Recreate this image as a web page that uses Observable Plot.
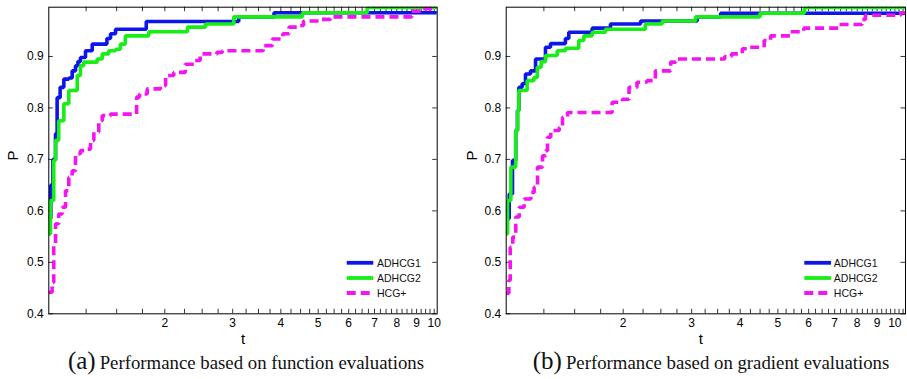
<!DOCTYPE html>
<html><head><meta charset="utf-8">
<script src="https://cdn.jsdelivr.net/npm/d3@7"></script>
<script src="https://cdn.jsdelivr.net/npm/@observablehq/plot@0.6"></script>
<style>
body{margin:0;background:#fff;}
#wrap{position:relative;width:907px;height:379px;overflow:hidden;background:#fff;}
.panel{position:absolute;top:0;}
.cap{position:absolute;top:346px;width:440px;height:30px;line-height:30px;text-align:center;font-family:"Liberation Serif","Times New Roman",serif;white-space:nowrap;color:#111;}
.cap .l{font-size:25px;}
.cap .t{font-size:18.8px;}
</style></head><body><div id="wrap"></div>
<script>
// ---- categories / labels ----
const series = ["ADHCG1", "ADHCG2", "HCG+"];
const colors = ["#0c16e8", "#16ee16", "#f414f0"];
const dashes = [null, null, "9,5"];
const xMajor = [2, 3, 4, 5, 6, 7, 8, 9, 10];
const xMinor = [1.25, 1.5, 1.75, 2.25, 2.5, 2.75, 3.25, 3.5, 3.75, 4.25, 4.5, 4.75, 5.25, 5.5, 5.75,
  6.25, 6.5, 6.75, 7.25, 7.5, 7.75, 8.25, 8.5, 8.75, 9.25, 9.5, 9.75, 10.25, 10.5];
const yTicks = [0.4, 0.5, 0.6, 0.7, 0.8, 0.9];
const capLetters = ["(a)", "(b)"];
const capTexts = ["Performance based on function evaluations", "Performance based on gradient evaluations"];

// ---- panel (a): function evaluations ----
const tA1 = [1, 1.012, 1.025, 1.041, 1.051, 1.07, 1.094, 1.127, 1.15, 1.173, 1.19, 1.208, 1.245, 1.296, 1.415, 1.446, 1.49, 1.79, 3.11, 3.84];
const pA1 = [0.585, 0.65, 0.70, 0.75, 0.82, 0.84, 0.856, 0.858, 0.872, 0.882, 0.89, 0.898, 0.911, 0.924, 0.935, 0.944, 0.953, 0.968, 0.977, 0.985];
const tA2 = [1, 1.01, 1.03, 1.041, 1.061, 1.094, 1.127, 1.185, 1.208, 1.232, 1.335, 1.376, 1.43, 1.49, 1.534, 1.58, 1.817, 2.29, 2.55, 3.02, 4.55, 6.7];
const pA2 = [0.555, 0.62, 0.698, 0.737, 0.775, 0.808, 0.834, 0.863, 0.882, 0.889, 0.895, 0.905, 0.911, 0.914, 0.924, 0.940, 0.948, 0.957, 0.963, 0.977, 0.985, 0.995];
const tA3 = [1, 1.02, 1.03, 1.041, 1.061, 1.083, 1.105, 1.127, 1.15, 1.173, 1.208, 1.245, 1.283, 1.309, 1.348, 1.376, 1.446, 1.69, 1.72, 1.8, 1.948, 2.009, 2.11, 2.26, 2.38, 2.47, 2.73, 2.82, 3.6, 3.8, 4.05, 4.2, 4.49, 4.58, 5.07, 5.38, 8.75, 9.3];
const pA3 = [0.442, 0.461, 0.536, 0.575, 0.594, 0.607, 0.639, 0.665, 0.678, 0.711, 0.717, 0.720, 0.737, 0.753, 0.775, 0.785, 0.788, 0.821, 0.827, 0.837, 0.843, 0.863, 0.869, 0.885, 0.892, 0.905, 0.908, 0.911, 0.921, 0.934, 0.944, 0.957, 0.960, 0.969, 0.972, 0.977, 0.988, 0.993];

// ---- panel (b): gradient evaluations ----
const tB1 = [1, 1.018, 1.038, 1.058, 1.069, 1.078, 1.099, 1.121, 1.155, 1.19, 1.262, 1.3, 1.42, 1.449, 1.664, 1.855, 2.217, 3.1, 3.56];
const pB1 = [0.585, 0.633, 0.698, 0.756, 0.795, 0.840, 0.847, 0.866, 0.872, 0.895, 0.918, 0.925, 0.935, 0.947, 0.955, 0.963, 0.969, 0.977, 0.984];
const tB2 = [1, 1.008, 1.028, 1.058, 1.07, 1.078, 1.132, 1.178, 1.202, 1.23, 1.262, 1.353, 1.421, 1.537, 1.584, 1.664, 1.8, 2.28, 2.52, 3.07, 4.5, 5.85];
const pB2 = [0.555, 0.62, 0.685, 0.756, 0.795, 0.834, 0.853, 0.859, 0.879, 0.89, 0.902, 0.911, 0.916, 0.931, 0.940, 0.947, 0.953, 0.963, 0.969, 0.977, 0.984, 0.995];
const tB3 = [1, 1.016, 1.024, 1.04, 1.058, 1.08, 1.112, 1.157, 1.18, 1.204, 1.24, 1.264, 1.277, 1.302, 1.369, 1.396, 1.438, 1.873, 1.99, 2.07, 2.17, 2.30, 2.42, 2.65, 2.73, 3.65, 3.8, 4.05, 4.17, 4.61, 4.79, 5.39, 5.83, 7.18, 8.23, 8.4, 10.35];
const pB3 = [0.44, 0.465, 0.529, 0.549, 0.588, 0.607, 0.623, 0.636, 0.646, 0.685, 0.707, 0.717, 0.743, 0.756, 0.762, 0.782, 0.791, 0.811, 0.817, 0.840, 0.850, 0.853, 0.872, 0.889, 0.895, 0.900, 0.905, 0.915, 0.918, 0.931, 0.940, 0.948, 0.955, 0.962, 0.972, 0.980, 0.985];

const FONT = "'Liberation Sans', Arial, Helvetica, sans-serif";

function makePanel(cfg) {
  const W = 453, H = 353, mt = 6.7, mb = 39.7, tk = 4.5;
  const innerW = W - cfg.ml - cfg.mr, innerH = H - mt - mb;
  const lines = cfg.data.map(([ts, ps], i) => {
    const rows = ts.map((t, j) => ({t, P: ps[j]}));
    rows.push({t: cfg.xMax, P: ps[ps.length - 1]});
    return Plot.line(rows, {x: "t", y: "P", curve: "step-after", stroke: colors[i], strokeWidth: 3.6,
      strokeDasharray: dashes[i], strokeLinejoin: "miter", strokeLinecap: "butt", clip: true});
  });
  const xTicks = xMajor.concat(xMinor).filter(v => v <= cfg.xMax);
  const legend = (index, scales, values, dims) => {
    const g = d3.create("svg:g");
    const x0 = dims.width - dims.marginRight, y0 = dims.height - dims.marginBottom;
    const dy = [-50.5, -35.3, -20.3];
    series.forEach((s, i) => {
      const y = y0 + dy[i];
      g.append("line").attr("x1", x0 + cfg.leg[0]).attr("x2", x0 + cfg.leg[1]).attr("y1", y).attr("y2", y)
        .attr("stroke", colors[i]).attr("stroke-width", 3.8).attr("stroke-dasharray", dashes[i]);
      g.append("text").attr("x", x0 + cfg.leg[2]).attr("y", y).attr("dy", "0.36em")
        .attr("text-anchor", "start")
        .attr("font-size", 10.5).attr("font-family", FONT).attr("fill", "#111").text(s);
    });
    return g.node();
  };
  return Plot.plot({
    width: W, height: H, marginLeft: cfg.ml, marginRight: cfg.mr, marginTop: mt, marginBottom: mb,
    style: {fontFamily: FONT, background: "white", color: "black", overflow: "visible"},
    x: {type: "log", domain: [1, cfg.xMax], axis: null},
    y: {domain: [0.4, 0.9957]},
    marks: [
      Plot.text(xMajor, {x: d => d, frameAnchor: "bottom", dy: 13.4, text: d => String(d), fontSize: 12, fill: "black"}),
      Plot.axisY(yTicks, {anchor: "left", tickSize: 0, tickPadding: 5, fontSize: 12, tickFormat: d3.format(".1f"), label: null}),
      Plot.tickX(xTicks, {x: d => d, insetTop: innerH - tk, stroke: "black", strokeWidth: 0.8}),
      Plot.tickX(xTicks, {x: d => d, insetBottom: innerH - tk, stroke: "black", strokeWidth: 0.8}),
      Plot.tickY(yTicks, {y: d => d, insetRight: innerW - tk, stroke: "black", strokeWidth: 0.8}),
      Plot.tickY(yTicks, {y: d => d, insetLeft: innerW - tk, stroke: "black", strokeWidth: 0.8}),
      ...lines,
      Plot.frame({stroke: "black", strokeWidth: 1}),
      Plot.text(["t"], {frameAnchor: "bottom", dy: 30, dx: cfg.tDx, fontSize: 15, fill: "black"}),
      Plot.text(["P"], {frameAnchor: "left", dx: cfg.pDx, rotate: -90, fontSize: 15, fill: "black"}),
      legend
    ]
  });
}

const wrap = document.getElementById("wrap");
const panels = [
  {left: 0, ml: 48.3, mr: 16.3, xMax: 10.18, data: [[tA1, pA1], [tA2, pA2], [tA3, pA3]], leg: [-90, -63.4, -59.7], tDx: 0, pDx: -36, capC: 246},
  {left: 454, ml: 51.7, mr: 2, xMax: 10.65, data: [[tB1, pB1], [tB2, pB2], [tB3, pB3]], leg: [-100.7, -74, -71.2], tDx: -5, pDx: -34, capC: 257}
];
panels.forEach((cfg, i) => {
  const div = document.createElement("div");
  div.className = "panel";
  div.style.left = cfg.left + "px";
  div.appendChild(makePanel(cfg));
  wrap.appendChild(div);
  const cap = document.createElement("div");
  cap.className = "cap";
  cap.style.left = (cfg.left + cfg.capC - 220) + "px";
  cap.innerHTML = `<span class="l">${capLetters[i]}</span> <span class="t">${capTexts[i]}</span>`;
  wrap.appendChild(cap);
});
</script>
</body></html>
